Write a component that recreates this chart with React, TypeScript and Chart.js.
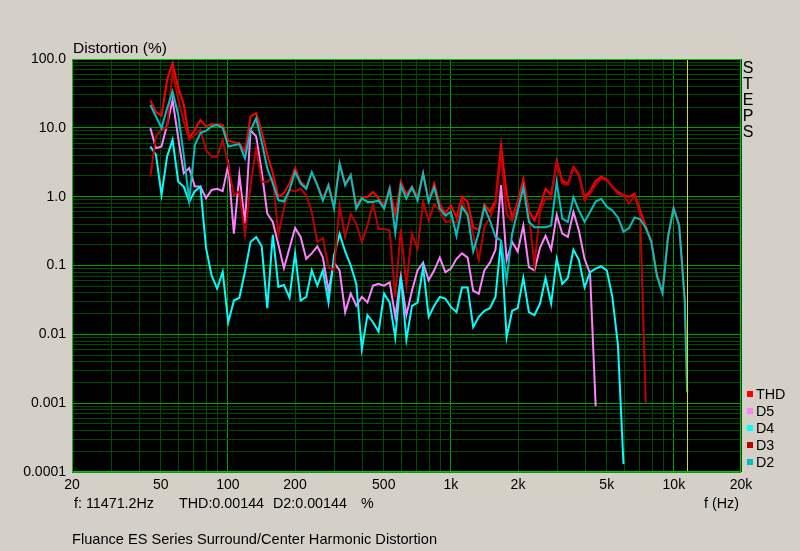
import React, { useEffect, useRef } from "react";
import { Chart, registerables } from "chart.js";

Chart.register(...registerables);

// Frequency points (Hz) shared by all series
const FREQS = [
  44.9, 47.6, 50.4, 53.4, 56.5, 59.9, 63.4, 67.1, 71.1, 75.3,
  79.8, 84.5, 89.5, 94.8, 100.4, 106.4, 112.6, 119.3, 126.4, 133.9,
  141.8, 150.2, 159.0, 168.5, 178.4, 189.0, 200.2, 212.0, 224.6, 237.8,
  251.9, 266.8, 282.6, 299.3, 317.0, 335.7, 355.6, 376.6, 398.9, 422.5,
  447.5, 474.0, 502.0, 531.7, 563.2, 596.4, 631.8, 669.1, 708.8, 750.7,
  795.1, 842.1, 892.0, 944.7, 1000.7, 1060, 1122, 1189, 1259, 1334,
  1413, 1496, 1585, 1679, 1778, 1883, 1994, 2113, 2238, 2370,
  2510, 2658, 2816, 2983, 3159, 3346, 3544, 3753, 3976, 4210,
  4460, 4724, 5003, 5299, 5613, 5944, 6296, 6668, 7063, 7482,
  7924, 8393, 8890, 9415, 9972, 10562, 11188, 11471.2,
];

const THD = [
  25, 17, 15, 50, 87, 38, 22, 7.1, 9.4, 13,
  10.5, 11.3, 11.3, 11, 6.5, 6.2, 6, 4.5, 14.6, 16.4,
  8.9, 4.1, 2.2, 1.0, 1.12, 1.56, 2.6, 1.65, 1.37, 2.2,
  1.5, 0.94, 1.5, 0.75, 3.1, 1.55, 2.1, 0.75, 0.98, 0.98,
  1.17, 0.94, 0.75, 1.35, 0.55, 1.65, 1.08, 1.4, 0.98, 2.2,
  0.88, 1.55, 0.78, 0.57, 0.75, 0.5, 1.0, 0.84, 0.36, 0.33,
  0.78, 0.6, 0.88, 5.6, 1.1, 0.5, 0.85, 1.8, 0.63, 0.45,
  0.71, 1.3, 1.05, 3.3, 1.7, 1.55, 2.7, 2.1, 0.98, 1.2,
  1.7, 1.95, 1.77, 1.4, 1.17, 1.05, 0.99, 1.1, 0.63, 0.37,
  0.23, 0.075, 0.042, 0.27, 0.7, 0.39, 0.032, 0.00144,
];

const D5 = [
  9.9, 5.06, 5.35, 11, 25.6, 7.1, 2.19, 2.6, 1.4, 1.4,
  0.95, 1.25, 1.3, 1.2, 2.9, 0.29, 2.08, 0.41, 9.3, 7.5,
  2.3, 0.57, 0.43, 0.2, 0.091, 0.18, 0.35, 0.26, 0.125, 0.15,
  0.19, 0.13, 0.043, 0.11, 0.085, 0.021, 0.039, 0.026, 0.035, 0.029,
  0.051, 0.054, 0.051, 0.057, 0.018, 0.069, 0.019, 0.043, 0.085, 0.11,
  0.061, 0.085, 0.13, 0.08, 0.09, 0.125, 0.15, 0.13, 0.043, 0.039,
  0.085, 0.11, 0.17, 1.47, 0.12, 0.22, 0.16, 0.38, 0.095, 0.085,
  0.18, 0.27, 0.17, 0.54, 0.29, 0.26, 0.6, 0.32, 0.125, 0.076,
  0.0009, null, null, null, null, null, null, null, null, null,
  null, null, null, null, null, null, null, null,
];

const D4 = [
  5.35, 4.05, 1.06, 3.83, 6.7, 1.65, 1.4, 0.85, 1.2, 1.4,
  0.18, 0.072, 0.046, 0.081, 0.015, 0.031, 0.034, 0.081, 0.22, 0.26,
  0.19, 0.024, 0.28, 0.049, 0.052, 0.034, 0.15, 0.031, 0.035, 0.085,
  0.051, 0.085, 0.029, 0.14, 0.29, 0.16, 0.1, 0.054, 0.0061, 0.019,
  0.015, 0.011, 0.039, 0.029, 0.009, 0.069, 0.0084, 0.026, 0.029, 0.095,
  0.018, 0.026, 0.035, 0.033, 0.025, 0.021, 0.048, 0.048, 0.0127, 0.018,
  0.022, 0.024, 0.035, 0.23, 0.009, 0.022, 0.024, 0.066, 0.021, 0.019,
  0.028, 0.066, 0.028, 0.125, 0.054, 0.066, 0.17, 0.12, 0.048, 0.08,
  0.09, 0.097, 0.085, 0.035, 0.007, 0.00013, null, null, null, null,
  null, null, null, null, null, null, null, null,
];

const D3 = [
  1.95, 7.5, 9.4, 10, 66, 25.6, 12.4, 6.7, 7.9, 9.4,
  4.8, 3.8, 3.8, 6.7, 2.9, 1.06, 1.2, 0.28, 1.48, 5.06,
  1.65, 1.65, 1.9, 0.28, 0.68, 1.25, 1.2, 1.3, 1.04, 0.6,
  0.22, 0.25, 0.095, 0.085, 0.75, 0.26, 0.56, 0.4, 0.22, 0.38,
  0.78, 0.34, 0.34, 0.32, 0.035, 0.34, 0.051, 0.29, 0.175, 0.84,
  0.45, 0.78, 0.62, 0.43, 0.44, 0.42, 0.88, 0.56, 0.29, 0.12,
  0.36, 0.5, 0.79, 3.9, 0.56, 0.44, 0.75, 1.3, 0.56, 0.1,
  0.6, 0.94, 0.94, 3.0, 1.55, 1.47, 2.6, 2.0, 0.88, 1.1,
  1.5, 1.83, 1.73, 1.38, 1.1, 1.04, 0.79, 1.04, 0.55, 0.001,
  null, null, null, null, null, null, null, null,
];

const D2 = [
  21.6, 14.6, 9.9, 19.3, 33.8, 15.5, 4.05, 0.89, 5.6, 8.4,
  9.0, 10.5, 11, 10, 5.35, 5.6, 5.8, 3.6, 9.3, 13.8,
  6.3, 2.6, 1.56, 0.89, 0.85, 1.25, 2.3, 1.55, 1.3, 2.28,
  1.46, 0.88, 1.46, 0.67, 3.0, 1.46, 2.05, 0.67, 0.94, 0.84,
  0.84, 0.88, 0.67, 1.3, 0.3, 1.46, 0.94, 1.37, 0.88, 2.16,
  0.84, 1.37, 0.67, 0.53, 0.6, 0.27, 0.71, 0.54, 0.16, 0.3,
  0.71, 0.45, 0.26, 0.23, 0.061, 0.29, 0.63, 1.38, 0.43, 0.36,
  0.36, 0.36, 0.38, 1.64, 0.48, 0.43, 0.98, 0.63, 0.43, 0.6,
  0.85, 0.93, 0.71, 0.63, 0.5, 0.31, 0.35, 0.5, 0.47, 0.35,
  0.22, 0.07, 0.04, 0.26, 0.68, 0.38, 0.031, 0.00144,
];

const CURSOR_FREQ = 11471.2;

const X_GRID = [
  20, 30, 40, 50, 60, 70, 80, 90,
  100, 200, 300, 400, 500, 600, 700, 800, 900,
  1000, 2000, 3000, 4000, 5000, 6000, 7000, 8000, 9000,
  10000, 20000,
];
const X_LABEL_VALUES = [20, 50, 100, 200, 500, 1000, 2000, 5000, 10000, 20000];
const X_LABEL_TEXT = ["20", "50", "100", "200", "500", "1k", "2k", "5k", "10k", "20k"];

const Y_DECADES = [0.0001, 0.001, 0.01, 0.1, 1, 10, 100];
const Y_DECADE_LABELS = ["0.0001", "0.001", "0.01", "0.1", "1.0", "10.0", "100.0"];
const MINOR_STEPS = [2, 3, 4, 5, 6, 7, 8, 9];

const SERIES_NAMES = ["THD", "D5", "D4", "D3", "D2"];
const SERIES_COLORS = ["#ff0000", "#ff80ff", "#00ffff", "#c00000", "#00c0c0"];

const FONT = "'Liberation Sans', Arial, sans-serif";
const GRID_MAJOR = "#00a000";
const GRID_MINOR = "#004c00";
const FRAME = "#00c000";
const CURSOR_COLOR = "#e0e000";

const isDecade = (v: number) => {
  const l = Math.log10(v);
  return Math.abs(l - Math.round(l)) < 1e-6;
};

const yGridValues: number[] = [];
Y_DECADES.forEach((d, i) => {
  yGridValues.push(d);
  if (i < Y_DECADES.length - 1) {
    MINOR_STEPS.forEach((m) => yGridValues.push(Number((d * m).toPrecision(6))));
  }
});

const xLabelFor = (v: number) => {
  const k = X_LABEL_VALUES.findIndex((t) => Math.abs(t - v) < t * 1e-6);
  return k >= 0 ? X_LABEL_TEXT[k] : "";
};
const yLabelFor = (v: number) => {
  const k = Y_DECADES.findIndex((t) => Math.abs(t - v) < t * 1e-6);
  return k >= 0 ? Y_DECADE_LABELS[k] : "";
};

const plotFrame = {
  id: "plotFrame",
  beforeDraw(chart: any) {
    const { ctx, chartArea } = chart;
    ctx.save();
    ctx.fillStyle = "#000000";
    ctx.fillRect(chartArea.left, chartArea.top, chartArea.right - chartArea.left, chartArea.bottom - chartArea.top);
    ctx.restore();
  },
  afterDatasetsDraw(chart: any) {
    const { ctx, chartArea, scales } = chart;
    ctx.save();
    // cursor line at the read-out frequency, placed through the x scale
    const cx = Math.round(scales.x.getPixelForValue(CURSOR_FREQ)) + 0.5;
    ctx.strokeStyle = CURSOR_COLOR;
    ctx.lineWidth = 1;
    ctx.beginPath();
    ctx.moveTo(cx, chartArea.top);
    ctx.lineTo(cx, chartArea.bottom);
    ctx.stroke();
    // plot frame
    ctx.strokeStyle = FRAME;
    ctx.strokeRect(
      Math.round(chartArea.left) + 0.5,
      Math.round(chartArea.top) + 0.5,
      Math.round(chartArea.right - chartArea.left) - 1,
      Math.round(chartArea.bottom - chartArea.top) - 1
    );
    ctx.restore();
  },
};

const seriesValues = [THD, D5, D4, D3, D2];

export default function App() {
  const canvasRef = useRef<HTMLCanvasElement>(null);

  useEffect(() => {
    document.body.style.margin = "0";
    const canvas = canvasRef.current;
    if (!canvas) return;

    const datasets: any[] = seriesValues.map((vals, s) => ({
      label: SERIES_NAMES[s],
      data: FREQS.map((f, i) => ({ x: f, y: vals[i] })),
      borderColor: SERIES_COLORS[s],
      backgroundColor: SERIES_COLORS[s],
      borderWidth: 2,
      pointRadius: 0,
      tension: 0,
      fill: false,
      spanGaps: false,
      order: 5 - s,
    }));

    const tickFont = { family: FONT, size: 14 };

    const chart = new Chart(canvas, {
      type: "line",
      data: { datasets },
      plugins: [plotFrame],
      options: {
        responsive: false,
        maintainAspectRatio: false,
        animation: false,
        layout: { padding: { top: 59, right: 59, bottom: 0, left: 0 } },
        plugins: {
          legend: { display: false },
          tooltip: { enabled: false },
          title: { display: false },
        },
        scales: {
          x: {
            type: "logarithmic",
            position: "bottom",
            min: 20,
            max: 20000,
            afterBuildTicks: (axis: any) => {
              axis.ticks = X_GRID.map((v) => ({ value: v }));
            },
            afterFit: (axis: any) => {
              axis.height = 79;
            },
            ticks: {
              autoSkip: false,
              maxRotation: 0,
              minRotation: 0,
              padding: 5,
              color: "#000000",
              font: tickFont,
              callback: (v: any) => xLabelFor(Number(v)),
            },
            grid: {
              drawTicks: false,
              tickLength: 0,
              lineWidth: 1,
              color: (c: any) => (c.tick && isDecade(c.tick.value) ? GRID_MAJOR : GRID_MINOR),
            },
            border: { display: false },
          },
          y: {
            type: "logarithmic",
            position: "left",
            min: 0.0001,
            max: 100,
            afterBuildTicks: (axis: any) => {
              axis.ticks = yGridValues.map((v) => ({ value: v }));
            },
            afterFit: (axis: any) => {
              axis.width = 72;
            },
            ticks: {
              autoSkip: false,
              padding: 6,
              color: "#000000",
              font: tickFont,
              callback: (v: any) => yLabelFor(Number(v)),
            },
            grid: {
              drawTicks: false,
              tickLength: 0,
              lineWidth: 1,
              color: (c: any) => (c.tick && isDecade(c.tick.value) ? GRID_MAJOR : GRID_MINOR),
            },
            border: { display: false },
          },
        },
      } as any,
    });

    return () => chart.destroy();
  }, []);

  const abs = (left: number, top: number, size: number, extra: any = {}) => ({
    position: "absolute" as const,
    left,
    top,
    fontSize: size,
    lineHeight: "17px",
    whiteSpace: "pre" as const,
    ...extra,
  });

  const legendTops = [386, 403, 420, 437, 454];

  return (
    <div
      style={{
        position: "relative",
        width: 800,
        height: 551,
        background: "#d4d0c8",
        fontFamily: FONT,
        color: "#000",
        overflow: "hidden",
      }}
    >
      <canvas
        ref={canvasRef}
        width={800}
        height={551}
        style={{ position: "absolute", left: 0, top: 0, width: 800, height: 551 }}
      />
      <div style={abs(73, 39, 15.5, { lineHeight: "18px" })}>Distortion (%)</div>
      <div
        style={{
          position: "absolute",
          left: 738,
          top: 60,
          width: 20,
          textAlign: "center",
          fontSize: 16,
          lineHeight: "16px",
        }}
      >
        {"STEPS".split("").map((ch, i) => (
          <div key={i}>{ch}</div>
        ))}
      </div>
      {SERIES_NAMES.map((name, i) => (
        <React.Fragment key={name}>
          <div
            style={{
              position: "absolute",
              left: 747,
              top: legendTops[i] + 5,
              width: 6,
              height: 6,
              background: SERIES_COLORS[i],
            }}
          />
          <div style={abs(756, legendTops[i], 14.3)}>{name}</div>
        </React.Fragment>
      ))}
      <div style={abs(74, 495, 14.3)}>f: 11471.2Hz</div>
      <div style={abs(179, 495, 14.3)}>THD:0.00144</div>
      <div style={abs(273, 495, 14.3)}>D2:0.00144</div>
      <div style={abs(361, 495, 14.3)}>%</div>
      <div style={abs(704, 495, 14.3)}>f (Hz)</div>
      <div style={abs(72, 531, 14.6)}>Fluance ES Series Surround/Center Harmonic Distortion</div>
    </div>
  );
}
